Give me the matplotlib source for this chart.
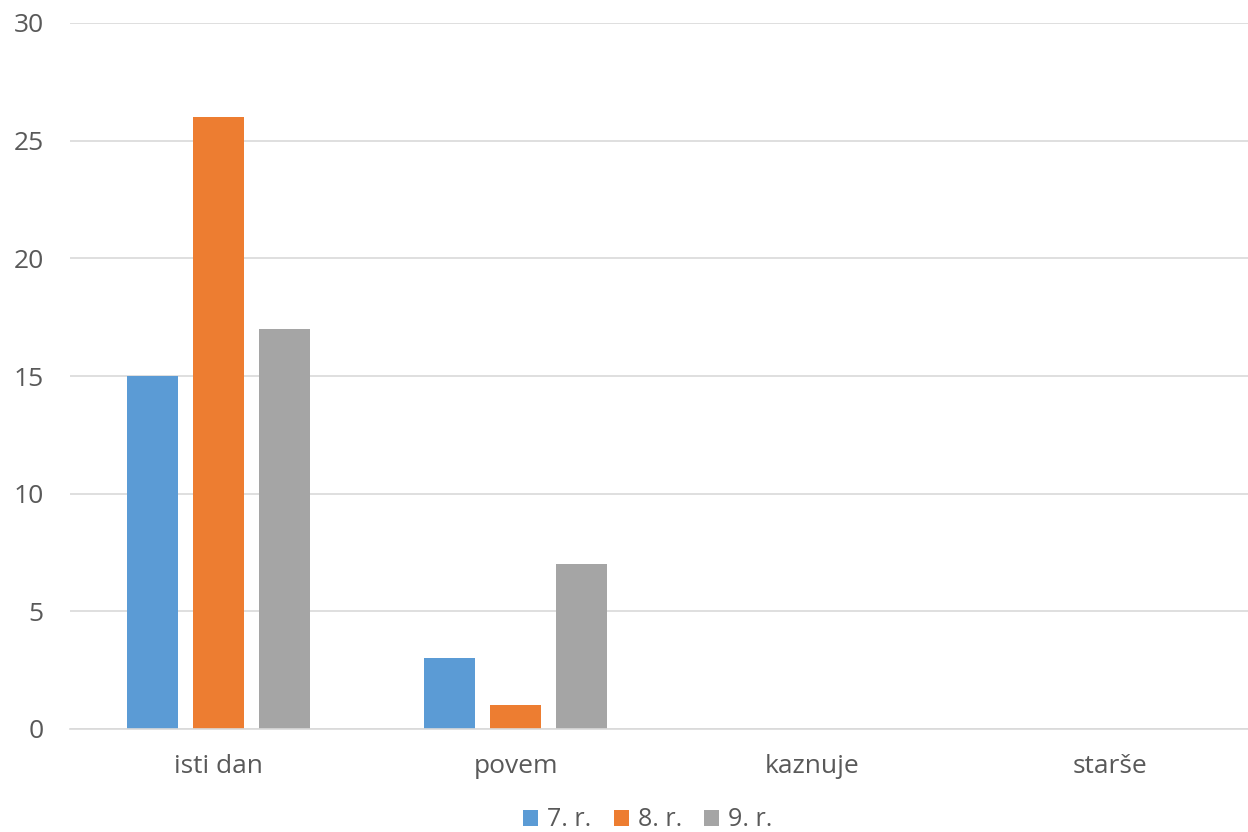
import matplotlib.pyplot as plt
import numpy as np

categories = ["isti dan", "povem", "kaznuje", "starše"]
series_names = ["7. r.", "8. r.", "9. r."]
values_7 = [15, 3, 0, 0]
values_8 = [26, 1, 0, 0]
values_9 = [17, 7, 0, 0]
colors = ["#5B9BD5", "#ED7D31", "#A5A5A5"]

plt.rcParams['font.family'] = ['Open Sans', 'DejaVu Sans']
text_color = "#595959"

fig = plt.figure(figsize=(12.48, 8.32), dpi=100)
ax = fig.add_axes([70 / 1248, 1 - 729 / 832, 1188 / 1248, 706 / 832])

x = np.arange(len(categories))
offset = 0.222
width = 0.173
for i, (vals, name, c) in enumerate(zip([values_7, values_8, values_9], series_names, colors)):
    ax.bar(x + (i - 1) * offset, vals, width, color=c, label=name, zorder=2)

ax.set_xlim(-0.5, len(categories) - 0.5)
ax.set_ylim(0, 30)
ax.set_yticks(range(0, 31, 5))
ax.set_xticks(x)
ax.set_xticklabels(categories)
ax.yaxis.grid(True, color="#D9D9D9", linewidth=1.2, zorder=0)
for s in ["top", "right", "left"]:
    ax.spines[s].set_visible(False)
ax.spines["bottom"].set_color("#D9D9D9")
ax.spines["bottom"].set_linewidth(1.2)
ax.tick_params(axis="both", length=0, labelsize=19, labelcolor=text_color)
ax.tick_params(axis="y", pad=19)
ax.tick_params(axis="x", pad=18)

fig.legend(loc="center", bbox_to_anchor=(648 / 1248, 1 - 820 / 832), ncol=3,
           frameon=False, fontsize=18, labelcolor=text_color,
           handlelength=0.6, handleheight=0.6, handletextpad=0.35, columnspacing=0.9)

fig.savefig("out.png", dpi=100)
